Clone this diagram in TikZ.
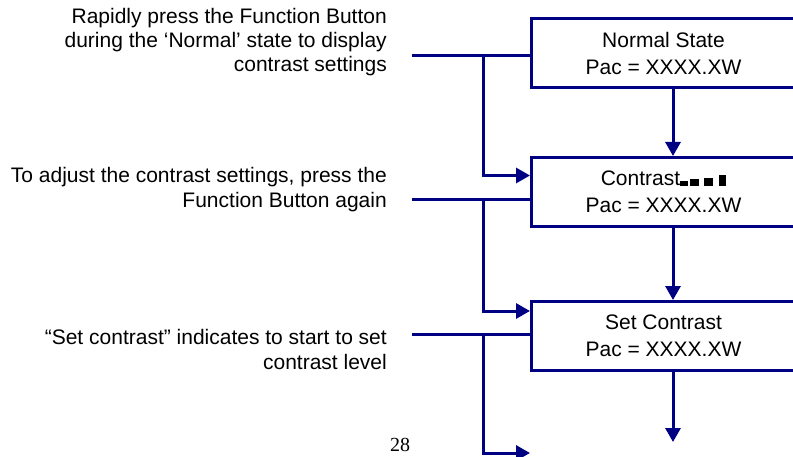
\documentclass[tikz,border=0pt]{standalone}
\usepackage{fontspec}
\setmainfont{Liberation Sans}
\newfontfamily\pagefont{Liberation Serif}
\usetikzlibrary{arrows.meta,positioning}
\definecolor{navyline}{RGB}{0,0,130}

\begin{document}
\begin{tikzpicture}[
    x=1pt, y=1pt,
    every node/.style={font=\fontsize{21}{24}\selectfont},
    state/.style={draw=navyline, line width=3pt, align=center, minimum width=264pt, minimum height=69pt,
        font=\fontsize{21}{27}\selectfont},
    note/.style={align=right, anchor=east, inner sep=0pt},
    link/.style={draw=navyline, line width=3pt},
    flow/.style={link, -{Triangle[length=14pt, width=15pt]}}
]
\useasboundingbox (0,0) rectangle (793,456);
\clip (0,0) rectangle (793,456);

\node[state] (normal) at (663.5,403) {Normal State\\Pac = XXXX.XW};
\node[state, below=67pt of normal] (contrast) {Contrast\rule{8pt}{5pt}\hspace{2pt}\rule{9pt}{7pt}\hspace{5pt}\rule{9pt}{8pt}\hspace{6pt}\rule{7pt}{11pt}\\Pac = XXXX.XW};
\node[state, below=72pt of contrast] (setc) {Set Contrast\\Pac = XXXX.XW};

% explanations on the left
\node[note] (press) at (387,414) {Rapidly press the Function Button\\during the `Normal' state to display\\contrast settings};
\node[note, font=\fontsize{21}{25}\selectfont] (adjust) at (387,266) {To adjust the contrast settings, press the\\Function Button again};
\node[note, font=\fontsize{21}{25}\selectfont] (start) at (387,107) {``Set contrast'' indicates to start to set\\contrast level};
\node[font=\pagefont\fontsize{20}{24}\selectfont, anchor=south, inner sep=0pt] (pageno) at (400,4) {28};

\coordinate (in1) at (412,400);
\coordinate (in2) at (412,256);
\coordinate (in3) at (412,122);
\coordinate (trunk) at (483,0);
\coordinate (nextstate) at (530,3);
\coordinate (nextdown) at (673,14);

\draw[link] (in1) -- (in1 -| normal.west);
\draw[link] (in2) -- (in2 -| contrast.west);
\draw[link] (in3) -- (in3 -| setc.west);
\draw[flow] (in1 -| trunk) |- ([yshift=16.5pt]contrast.west);
\draw[flow] (in2 -| trunk) |- ([yshift=25pt]setc.west);
\draw[flow] (in3 -| trunk) |- (nextstate);
\draw[flow] ([xshift=9.5pt]normal.south) -- ([xshift=9.5pt]contrast.north);
\draw[flow] ([xshift=9.5pt]contrast.south) -- ([xshift=9.5pt]setc.north);
\draw[flow] ([xshift=9.5pt]setc.south) -- (nextdown);
\end{tikzpicture}
\end{document}
